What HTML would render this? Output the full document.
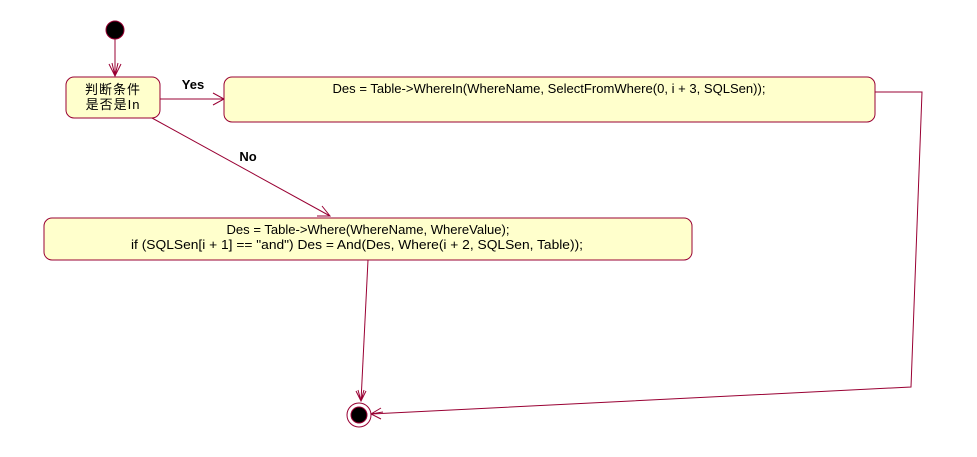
<!DOCTYPE html>
<html><head><style>body{margin:0;background:#fff}</style></head><body>
<svg width="977" height="452" xmlns="http://www.w3.org/2000/svg" font-family="Liberation Sans, Noto Sans CJK SC, sans-serif">
<rect width="977" height="452" fill="#fff"/>
<g stroke="#990033" stroke-width="1" fill="none">
<line x1="115" y1="39" x2="115" y2="76"/>
<path d="M109,64 L115,76 L121,64 M115,76 L112,63 M115,76 L118,63"/>
<line x1="160" y1="99" x2="224" y2="99"/>
<path d="M213,93 L224,99 L213,105"/>
<line x1="152" y1="118" x2="330" y2="216"/>
<path d="M317,216 L330,216 L322,206"/>
<polyline points="875,92 922,92 911,387 371,414"/>
<path d="M381,408 L371,414 L381,419 M371,414 L383,412"/>
<line x1="368" y1="260" x2="361" y2="401"/>
<path d="M356,391 L361,401 L366,391 M361,401 L358,390 M361,401 L364,390"/>
<rect x="66" y="77" width="94" height="41" rx="8" fill="#ffffcc"/>
<rect x="224" y="77" width="651" height="45" rx="8" fill="#ffffcc"/>
<rect x="44" y="218" width="648" height="42" rx="8" fill="#ffffcc"/>
<circle cx="359" cy="415" r="12" fill="#fff"/>
</g>
<circle cx="115" cy="30" r="9" fill="#000" stroke="#990033"/>
<circle cx="359" cy="415" r="8" fill="#000" stroke="#990033"/>
<g font-size="13" fill="#000" text-anchor="middle">
<text x="113" y="94" letter-spacing="1">判断条件</text>
<text x="113" y="109" letter-spacing="1">是否是In</text>
<text x="549" y="93" textLength="433" lengthAdjust="spacingAndGlyphs">Des = Table-&gt;WhereIn(WhereName, SelectFromWhere(0, i + 3, SQLSen));</text>
<text x="368" y="234" textLength="283" lengthAdjust="spacingAndGlyphs">Des = Table-&gt;Where(WhereName, WhereValue);</text>
<text x="357" y="249" textLength="452" lengthAdjust="spacingAndGlyphs">if (SQLSen[i + 1] == "and") Des = And(Des, Where(i + 2, SQLSen, Table));</text>
<text x="193" y="89" font-weight="bold">Yes</text>
<text x="248" y="161" font-weight="bold">No</text>
</g>
</svg>
</body></html>
